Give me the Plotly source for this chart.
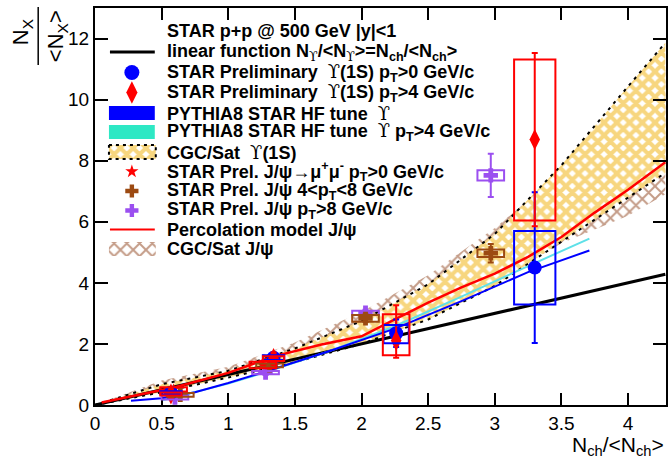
import plotly.graph_objects as go

# ---------------- data ----------------
# linear reference
lin_x = [0.0, 4.28]
lin_y = [0.0, 4.28]

# STAR Preliminary Upsilon(1S) pT>0
ups0_x = [0.57, 1.34, 2.26, 3.30]
ups0_y = [0.40, 1.55, 2.35, 4.50]
ups0_stat = [0.12, 0.15, 0.45, 2.47]
ups0_sys_lo = [0.05, 0.08, 0.33, 1.21]
ups0_sys_hi = [0.05, 0.08, 0.27, 1.20]
ups0_boxw = [0.08, 0.08, 0.095, 0.155]

# STAR Preliminary Upsilon(1S) pT>4
ups4_x = [0.57, 1.34, 2.26, 3.30]
ups4_y = [0.36, 1.52, 2.11, 8.69]
ups4_stat_hi = [0.12, 0.20, 1.16, 2.84]
ups4_stat_lo = [0.12, 0.20, 0.56, 2.84]
ups4_sys_lo = [0.05, 0.08, 0.48, 2.65]
ups4_sys_hi = [0.05, 0.08, 0.86, 2.62]
ups4_boxw = [0.08, 0.08, 0.10, 0.155]

# STAR Prel. J/psi -> mu mu pT>0
jpsi0_x = [0.59, 1.26]
jpsi0_y = [0.51, 1.31]
jpsi0_stat = [0.04, 0.05]
jpsi0_sys = [0.07, 0.11]

# STAR Prel. J/psi 4<pT<8
jpsi48_x = [0.64, 1.31, 2.03, 2.97]
jpsi48_y = [0.33, 1.30, 2.84, 4.97]
jpsi48_stat = [0.05, 0.06, 0.12, 0.30]
jpsi48_sys = [0.06, 0.06, 0.11, 0.12]

# STAR Prel. J/psi pT>8
jpsi8_x = [0.60, 1.28, 2.03, 2.97]
jpsi8_y = [0.24, 1.06, 3.02, 7.52]
jpsi8_stat = [0.06, 0.08, 0.10, 0.71]
jpsi8_sys = [0.06, 0.05, 0.07, 0.17]

jpsi_boxw = 0.10

# PYTHIA8 STAR HF tune Upsilon
py_x = [0.27, 0.5, 0.75, 1.0, 1.3, 1.75, 2.25, 2.75, 3.25, 3.71]
py_y = [0.14, 0.22, 0.42, 0.72, 1.12, 1.75, 2.50, 3.40, 4.35, 5.06]

# PYTHIA8 STAR HF tune Upsilon pT>4
py4_x = [0.5, 0.75, 1.0, 1.3, 1.75, 2.25, 2.75, 3.25, 3.71]
py4_y = [0.15, 0.42, 0.70, 1.10, 1.75, 2.58, 3.55, 4.55, 5.45]

# Percolation model J/psi
perc_x = [0.05, 0.3, 0.6, 1.0, 1.35, 1.7, 2.0, 2.25, 2.5, 2.75, 3.0, 3.25, 3.5, 3.75, 4.0, 4.28]
perc_y = [0.08, 0.30, 0.58, 1.05, 1.60, 1.98, 2.25, 2.80, 3.35, 3.85, 4.30, 4.85, 5.50, 6.30, 7.05, 7.95]

# CGC/Sat Upsilon(1S) band
cgcU_x = [0.0, 0.5, 1.0, 1.5, 2.0, 2.5, 3.0, 3.5, 4.0, 4.28]
cgcU_hi = [0.0, 0.68, 1.12, 1.85, 2.75, 3.95, 5.60, 7.85, 10.43, 11.86]
cgcU_lo = [0.0, 0.42, 0.90, 1.40, 2.00, 2.80, 3.90, 5.35, 6.80, 7.60]

# CGC/Sat J/psi band
cgcJ_x = [0.0, 0.5, 1.0, 1.5, 2.0, 2.5, 3.0, 3.5, 4.0, 4.28]
cgcJ_hi = [0.0, 0.80, 1.25, 2.05, 3.05, 4.25, 5.80, 7.60, 9.80, 10.98]
cgcJ_lo = [0.0, 0.45, 0.95, 1.50, 2.15, 2.95, 4.00, 5.30, 6.20, 6.90]

x_ticks = [0, 0.5, 1, 1.5, 2, 2.5, 3, 3.5, 4]
x_ticklabels = ["0", "0.5", "1", "1.5", "2", "2.5", "3", "3.5", "4"]
y_ticks = [0, 2, 4, 6, 8, 10, 12]

# ---------------- styles ----------------
BLUE = "#0000ff"
RED = "#ff0000"
BROWN = "#9c4a12"
PURPLE = "#9b4ff0"
CYAN = "#2ee8c4"
LCYAN = "#5ee0e8"
YEL = "#f0ae00"
HATCHBROWN = "#8a3a12"
FONT = "Liberation Sans, Arial, sans-serif"
YPAT = dict(shape="x", fgcolor=YEL, bgcolor="white", size=9, solidity=0.7)
BPAT = dict(shape="x", fgcolor=HATCHBROWN, bgcolor="rgba(0,0,0,0)", size=9, solidity=0.4)

fig = go.Figure()

# bands
fig.add_trace(go.Scatter(
    x=cgcJ_x + cgcJ_x[::-1], y=cgcJ_hi + cgcJ_lo[::-1], fill="toself", mode="lines",
    line=dict(width=0, color=HATCHBROWN), fillcolor="rgba(0,0,0,0)", fillpattern=BPAT,
    showlegend=False, hoverinfo="skip"))
fig.add_trace(go.Scatter(
    x=cgcU_x + cgcU_x[::-1], y=cgcU_hi + cgcU_lo[::-1], fill="toself", mode="lines",
    line=dict(width=0, color=YEL), fillcolor="white", fillpattern=YPAT,
    showlegend=False, hoverinfo="skip"))
for yy in (cgcU_hi, cgcU_lo):
    fig.add_trace(go.Scatter(x=cgcU_x, y=yy, mode="lines",
                             line=dict(color="black", width=2, dash="3px,5px"),
                             showlegend=False, hoverinfo="skip"))

# curves
fig.add_trace(go.Scatter(x=lin_x, y=lin_y, mode="lines", line=dict(color="black", width=3), showlegend=False))
fig.add_trace(go.Scatter(x=py4_x, y=py4_y, mode="lines", line=dict(color=LCYAN, width=2), showlegend=False))
fig.add_trace(go.Scatter(x=py_x, y=py_y, mode="lines", line=dict(color=BLUE, width=2), showlegend=False))
fig.add_trace(go.Scatter(x=perc_x, y=perc_y, mode="lines", line=dict(color=RED, width=2.5), showlegend=False))

# systematic boxes
def add_boxes(xs, ys, lo, hi, hw, color):
    for i in range(len(xs)):
        w = hw[i] if isinstance(hw, list) else hw
        fig.add_shape(type="rect", xref="x", yref="y",
                      x0=xs[i] - w, x1=xs[i] + w, y0=ys[i] - lo[i], y1=ys[i] + hi[i],
                      line=dict(color=color, width=2), fillcolor="rgba(0,0,0,0)", layer="above")

add_boxes(jpsi8_x, jpsi8_y, jpsi8_sys, jpsi8_sys, jpsi_boxw, PURPLE)
add_boxes(jpsi48_x, jpsi48_y, jpsi48_sys, jpsi48_sys, jpsi_boxw, BROWN)
add_boxes(jpsi0_x, jpsi0_y, jpsi0_sys, jpsi0_sys, jpsi_boxw, RED)
add_boxes(ups0_x, ups0_y, ups0_sys_lo, ups0_sys_hi, ups0_boxw, BLUE)
add_boxes(ups4_x, ups4_y, ups4_sys_lo, ups4_sys_hi, ups4_boxw, RED)

# data points
fig.add_trace(go.Scatter(x=jpsi8_x, y=jpsi8_y, mode="markers",
                         marker=dict(symbol="cross", size=12, color=PURPLE),
                         error_y=dict(type="data", array=jpsi8_stat, color=PURPLE, thickness=2, width=3),
                         showlegend=False))
fig.add_trace(go.Scatter(x=jpsi48_x, y=jpsi48_y, mode="markers",
                         marker=dict(symbol="cross", size=12, color=BROWN),
                         error_y=dict(type="data", array=jpsi48_stat, color=BROWN, thickness=2, width=3),
                         showlegend=False))
fig.add_trace(go.Scatter(x=jpsi0_x, y=jpsi0_y, mode="markers",
                         marker=dict(symbol="star", size=9, color=RED),
                         error_y=dict(type="data", array=jpsi0_stat, color=RED, thickness=2, width=3),
                         showlegend=False))
fig.add_trace(go.Scatter(x=ups0_x, y=ups0_y, mode="markers",
                         marker=dict(symbol="circle", size=14, color=BLUE),
                         error_y=dict(type="data", array=ups0_stat, color=BLUE, thickness=2, width=3),
                         showlegend=False))
fig.add_trace(go.Scatter(x=ups4_x, y=ups4_y, mode="markers",
                         marker=dict(symbol="diamond-tall", size=15, color=RED),
                         error_y=dict(type="data", array=ups4_stat_hi, arrayminus=ups4_stat_lo,
                                      color=RED, thickness=2, width=3),
                         showlegend=False))

# ---------------- custom legend (overlay axes in pixel units) ----------------
L = dict(xaxis="x2", yaxis="y2", showlegend=False, hoverinfo="skip")
SX0, SX1, SXC = 110, 155, 132
rows = [31, 52, 72.5, 92.5, 113, 132, 152, 171.5, 191, 210.5, 229.5, 249]

def rect(x0, x1, y0, y1):
    return [x0, x1, x1, x0, x0], [y0, y0, y1, y1, y0]

fig.add_trace(go.Scatter(x=[SX0, SX1], y=[rows[1]] * 2, mode="lines", line=dict(color="black", width=3), **L))
fig.add_trace(go.Scatter(x=[SXC], y=[rows[2]], mode="markers", marker=dict(symbol="circle", size=15, color=BLUE), **L))
fig.add_trace(go.Scatter(x=[SXC], y=[rows[3]], mode="markers", marker=dict(symbol="diamond-tall", size=16, color=RED), **L))
rx, ry = rect(109, 155, rows[4] - 7, rows[4] + 7)
fig.add_trace(go.Scatter(x=rx, y=ry, fill="toself", mode="lines", line=dict(width=0, color=BLUE), fillcolor=BLUE, **L))
rx, ry = rect(109, 155, rows[5] - 7, rows[5] + 7)
fig.add_trace(go.Scatter(x=rx, y=ry, fill="toself", mode="lines", line=dict(width=0, color=CYAN), fillcolor=CYAN, **L))
rx, ry = rect(109, 156, rows[6] - 7, rows[6] + 7)
fig.add_trace(go.Scatter(x=rx, y=ry, fill="toself", mode="lines", line=dict(width=2, color="black", dash="3px,4px"),
                         fillcolor="white", fillpattern=YPAT, **L))
fig.add_trace(go.Scatter(x=[SXC], y=[rows[7]], mode="markers", marker=dict(symbol="star", size=10, color=RED), **L))
fig.add_trace(go.Scatter(x=[SXC], y=[rows[8]], mode="markers", marker=dict(symbol="cross", size=11, color=BROWN), **L))
fig.add_trace(go.Scatter(x=[SXC], y=[rows[9]], mode="markers", marker=dict(symbol="cross", size=11, color=PURPLE), **L))
fig.add_trace(go.Scatter(x=[SX0, SX1], y=[rows[10]] * 2, mode="lines", line=dict(color=RED, width=2), **L))
rx, ry = rect(109, 156, rows[11] - 7, rows[11] + 7)
fig.add_trace(go.Scatter(x=rx, y=ry, fill="toself", mode="lines", line=dict(width=0, color=HATCHBROWN),
                         fillcolor="rgba(0,0,0,0)", fillpattern=BPAT, **L))

UPS = "<span style=\"font-family:'DejaVu Serif';font-weight:normal\">ϒ</span>"
texts = [
    "STAR p+p @ 500 GeV |y|&lt;1",
    "linear function N<sub>" + UPS + "</sub>/&lt;N<sub>" + UPS + "</sub>&gt;=N<sub>ch</sub>/&lt;N<sub>ch</sub>&gt;",
    "STAR Preliminary  " + UPS + "(1S) p<sub>T</sub>&gt;0 GeV/c",
    "STAR Preliminary  " + UPS + "(1S) p<sub>T</sub>&gt;4 GeV/c",
    "PYTHIA8 STAR HF tune  " + UPS,
    "PYTHIA8 STAR HF tune  " + UPS + " p<sub>T</sub>&gt;4 GeV/c",
    "CGC/Sat  " + UPS + "(1S)",
    "STAR Prel. J/ψ→μ<sup>+</sup>μ<sup>-</sup> p<sub>T</sub>&gt;0 GeV/c",
    "STAR Prel. J/ψ 4&lt;p<sub>T</sub>&lt;8 GeV/c",
    "STAR Prel. J/ψ p<sub>T</sub>&gt;8 GeV/c",
    "Percolation model J/ψ",
    "CGC/Sat J/ψ",
]
for t, yy in zip(texts, rows):
    fig.add_annotation(xref="x2", yref="y2", x=165, y=yy, text="<b>" + t + "</b>", showarrow=False,
                       xanchor="left", yanchor="middle", font=dict(family=FONT, size=18, color="black"))

# axis titles
fig.add_annotation(xref="paper", yref="paper", x=1.0, y=-0.065, xanchor="right", yanchor="top",
                   text="N<sub>ch</sub>/&lt;N<sub>ch</sub>&gt;", showarrow=False,
                   font=dict(family=FONT, size=21, color="black"))
fig.add_annotation(xref="paper", yref="paper", x=(22 - 95) / 573, y=(405 - 32) / 397, textangle=-90,
                   xanchor="center", yanchor="middle",
                   text="N<sub>X</sub>", showarrow=False, font=dict(family=FONT, size=22, color="black"))
fig.add_annotation(xref="paper", yref="paper", x=(57 - 95) / 573, y=(405 - 36) / 397, textangle=-90,
                   xanchor="center", yanchor="middle",
                   text="&lt;N<sub>X</sub>&gt;", showarrow=False, font=dict(family=FONT, size=22, color="black"))
fig.add_shape(type="line", xref="paper", yref="paper", x0=(38 - 95) / 573, x1=(38 - 95) / 573,
              y0=(405 - 7) / 397, y1=(405 - 65) / 397, line=dict(color="black", width=1.5))

axcommon = dict(showgrid=False, zeroline=False, showline=True, linecolor="black", linewidth=2,
                mirror="ticks", ticks="inside", tickcolor="black", tickwidth=2,
                tickfont=dict(family=FONT, size=19, color="black"))
fig.update_layout(
    width=670, height=459,
    margin=dict(l=95, r=2, t=8, b=54),
    paper_bgcolor="white", plot_bgcolor="white",
    xaxis=dict(range=[0, 4.285], tickvals=x_ticks, ticktext=x_ticklabels, ticklen=12, **axcommon),
    yaxis=dict(range=[0, 13.0], tickvals=y_ticks, ticklen=13, **axcommon),
    xaxis2=dict(range=[95, 668], overlaying="x", visible=False, fixedrange=True),
    yaxis2=dict(range=[405, 8], overlaying="y", visible=False, fixedrange=True),
    showlegend=False,
)

fig.write_html("out.html", config={"displayModeBar": False},
               post_script="document.body.style.margin='0';document.body.style.overflow='hidden';")
